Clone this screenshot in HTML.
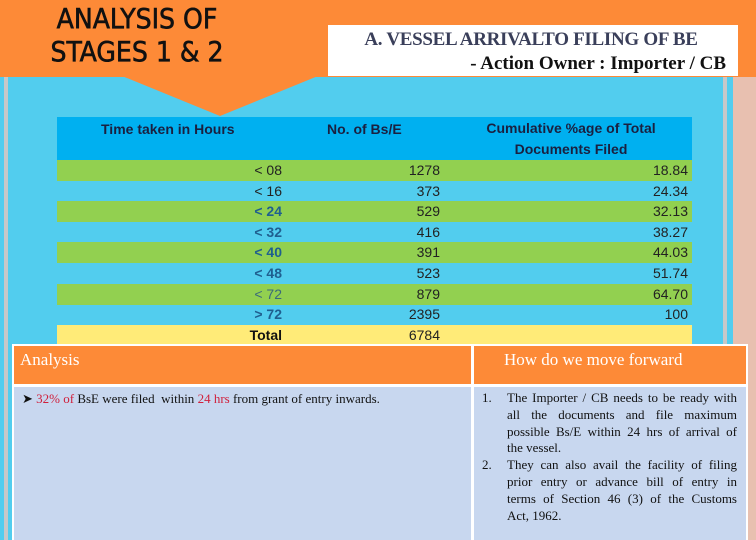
<!DOCTYPE html>
<html><head><meta charset="utf-8"><style>
body{margin:0;width:756px;height:540px;overflow:hidden;position:relative;background:#e8c0b0;font-family:"Liberation Sans",sans-serif}
.a{position:absolute}
.r{position:absolute;left:57px;width:635px;height:21px}
.c{position:absolute;font-size:14px;color:#222;top:2px}
.ser{font-family:"Liberation Serif",serif}
.j{text-align:justify;text-align-last:justify;white-space:nowrap;height:16.8px}
.l{white-space:nowrap;height:16.8px}
.item{position:relative;padding-left:33px}
.num{position:absolute;left:8px;top:0}
</style></head><body>
<div class="a" style="left:0;top:0;width:12px;height:540px;background:#52cdee"></div>
<div class="a" style="left:4px;top:77px;width:4px;height:463px;background:#c8c8c8"></div>
<div class="a" style="left:9px;top:77px;width:714px;height:463px;background:#52cdee"></div>
<div class="a" style="left:723px;top:77px;width:4px;height:463px;background:#c8c8c8"></div>
<div class="a" style="left:727px;top:77px;width:6px;height:463px;background:#52cdee"></div>
<div class="a" style="left:0;top:0;width:756px;height:77px;background:#fd8a37"></div>
<svg class="a" style="left:0;top:0" width="756" height="120"><polygon points="122,76 318,76 220,116" fill="#fd8a37"/></svg>
<div class="a" style="left:30px;top:2px;width:214px;text-align:center;font-size:28px;line-height:33px;color:#111;-webkit-text-stroke:0.6px #111;font-family:'DejaVu Sans Condensed','DejaVu Sans',sans-serif">ANALYSIS OF<br>STAGES 1 &amp; 2</div>
<div class="a ser" style="left:328px;top:25px;width:410px;height:51px;background:#fff;text-align:right;font-size:19px;line-height:24px;box-sizing:border-box;padding:3px 12px 0 0;font-weight:bold">
<div style="color:#3a3f5a;text-align:center;padding-left:8px;white-space:nowrap;letter-spacing:-0.3px">A. VESSEL ARRIVALTO FILING OF BE</div><div style="color:#111">- Action Owner : Importer / CB</div></div>
<div class="a" style="left:57px;top:117px;width:635px;height:43px;background:#00b0f0;font-weight:bold;font-size:14px;color:#1a2040">
<div class="a" style="left:44px;top:4px">Time taken in Hours</div>
<div class="a" style="left:270px;top:4px">No. of Bs/E</div>
<div class="a" style="left:396px;top:1px;width:236px;text-align:center;line-height:21px">Cumulative %age of Total<br>Documents Filed</div></div>
<div id="tbl"></div>
<div class="a" style="left:12px;top:344px;width:736px;height:196px;background:#fff"></div>
<div class="a ser" style="left:14px;top:346px;width:457px;height:38px;background:#fd8a37;color:#fff;font-size:17px;padding:4px 0 0 6px;box-sizing:border-box">Analysis</div>
<div class="a ser" style="left:474px;top:346px;width:272px;height:38px;background:#fd8a37;color:#fff;font-size:17px;padding:4px 0 0 30px;box-sizing:border-box">How do we move forward</div>
<div class="a ser" style="left:14px;top:387px;width:457px;height:153px;background:#c8d7ef;font-size:13px;padding:4px 0 0 8px;box-sizing:border-box;color:#111">&#10148; <span style="color:#d0203c">32% of</span> BsE were filed&nbsp; within <span style="color:#d0203c">24 hrs</span> from grant of entry inwards.</div>
<div class="a ser" style="left:474px;top:387px;width:272px;height:153px;background:#c8d7ef;font-size:13px;line-height:16.8px;box-sizing:border-box;padding:3px 9px 0 0;color:#111">
<div class="item"><span class="num">1.</span>
<div class="j">The Importer / CB needs to be ready with</div>
<div class="j">all the documents and file maximum</div>
<div class="j">possible Bs/E within 24 hrs of arrival of</div>
<div class="l">the vessel.</div></div>
<div class="item"><span class="num">2.</span>
<div class="j">They can also avail the facility of filing</div>
<div class="j">prior entry or advance bill of entry in</div>
<div class="j">terms of Section 46 (3) of the Customs</div>
<div class="l">Act, 1962.</div></div></div>
<script>
const categories=["< 08","< 16","< 24","< 32","< 40","< 48","< 72","> 72"];
const counts=["1278","373","529","416","391","523","879","2395"];
const cumulative=["18.84","24.34","32.13","38.27","44.03","51.74","64.70","100"];
const totalCount="6784";
const boldCat=[false,false,true,true,true,true,false,true];
const tbl=document.getElementById('tbl');
function addRow(i,cat,cnt,cum,bg,bold,catColor){
  const r=document.createElement('div');
  r.className='r';
  
  
  r.style.top=(160+i*20.6)+'px';r.style.background=bg;
  r.innerHTML='<div class="c" style="right:410px;'+(bold?'font-weight:bold;':'')+'color:'+catColor+'"></div><div class="c" style="right:252px"></div><div class="c" style="right:4px"></div>';
  const cs=r.children;cs[0].textContent=cat;cs[1].textContent=cnt;cs[2].textContent=cum;
  tbl.appendChild(r);
}
categories.forEach((c,i)=>{
  addRow(i,c,counts[i],cumulative[i],i%2==0?'#92d050':'transparent',boldCat[i],boldCat[i]?'#1f5f8f':(i==6?'#3a6a7a':'#222'));
});
addRow(categories.length,'Total',totalCount,'','#ffeb78',true,'#111');
</script>
</body></html>
